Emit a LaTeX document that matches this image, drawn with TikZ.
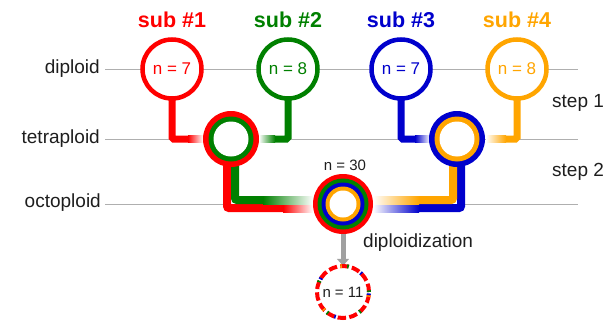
\documentclass[tikz,border=0pt]{standalone}
\usepackage{fontspec}
\setmainfont{Liberation Sans}
\usetikzlibrary{arrows.meta}
\definecolor{cred}{RGB}{255,0,0}
\definecolor{cgreen}{RGB}{0,128,0}
\definecolor{cblue}{RGB}{0,0,204}
\definecolor{corange}{RGB}{255,165,0}
\definecolor{cline}{RGB}{175,175,175}
\definecolor{ctext}{RGB}{30,30,30}
\definecolor{cgray}{RGB}{160,160,160}
\begin{document}
\begin{tikzpicture}[x=1pt,y=-1pt,
  level/.style={draw=cline,line width=1pt},
  lvlabel/.style={anchor=east,font=\fontsize{19}{19}\selectfont,text=ctext,inner sep=0pt},
  sublabel/.style={font=\fontsize{21.5}{21.5}\selectfont\bfseries,inner sep=0pt},
  dip/.style={circle,draw=#1,line width=4.5pt,fill=white,minimum size=59pt,inner sep=0pt,
    text=#1,font=\fontsize{17}{17}\selectfont},
  disc/.style={circle,fill=#1,inner sep=0pt},
  stem/.style={line width=7pt,draw=#1,rounded corners=1.5pt},
  band/.style={line width=8pt,draw=#1,rounded corners=2pt},
  note/.style={font=\fontsize{19}{19}\selectfont,text=ctext,inner sep=0pt}]
\useasboundingbox (0,0) rectangle (615,332);
% level lines
\draw[level] (105,69) -- (578,69);
\draw[level] (105,139) -- (578,139);
\draw[level] (105,204) -- (578,204);
\node[lvlabel] (ldip) at (100,69) {diploid};
\node[lvlabel] (ltet) at (100,139) {tetraploid};
\node[lvlabel] (loct) at (101,203) {octoploid};
\node[note,anchor=west] (st1) at (552,103) {step 1};
\node[note,anchor=west] (st2) at (552,172) {step 2};
% sub labels
\node[sublabel,text=cred] (h1) at (172,20) {sub \#1};
\node[sublabel,text=cgreen] (h2) at (288,20) {sub \#2};
\node[sublabel,text=cblue] (h3) at (401,20) {sub \#3};
\node[sublabel,text=corange] (h4) at (517,20) {sub \#4};
% coordinates of circles
\coordinate (c1) at (172,69);
\coordinate (c2) at (288,69);
\coordinate (c3) at (401,69);
\coordinate (c4) at (517,69);
\coordinate (t1) at (231,139);
\coordinate (t2) at (457,139);
\coordinate (o) at (343,204);
% step 1 stems
\draw[stem=cred] (c1) |- (190,139);
\shade[left color=cred,right color=white] (188,135.5) rectangle (203,142.5);
\draw[stem=cgreen] (c2) |- (273,139);
\shade[left color=white,right color=cgreen] (259,135.5) rectangle (275,142.5);
\draw[stem=cblue] (c3) |- (417,139);
\shade[left color=cblue,right color=white] (415,135.5) rectangle (430,142.5);
\draw[stem=corange] (c4) |- (504,139);
\shade[left color=white,right color=corange] (486,135.5) rectangle (506,142.5);
% step 2 bands
\draw[band=cred] (227,160) |- (285,208);
\shade[left color=cred,right color=white] (283,204) rectangle (313,212);
\draw[band=cgreen] (235,160) |- (265,200);
\shade[left color=cgreen,right color=white] (263,196) rectangle (313,204);
\draw[band=cblue] (461,160) |- (417,208);
\shade[left color=white,right color=cblue] (373,204) rectangle (419,212);
\draw[band=corange] (453,160) |- (417,200);
\shade[left color=white,right color=corange] (373,196) rectangle (419,204);
% diploid circles
\node[dip=cred] (s1) at (c1) {n = 7};
\node[dip=cgreen] (s2) at (c2) {n = 8};
\node[dip=cblue] (s3) at (c3) {n = 7};
\node[dip=corange] (s4) at (c4) {n = 8};
% tetraploid circles
\node[disc=cred,minimum size=56pt] (T1) at (t1) {};
\node[disc=cgreen,minimum size=45pt] (T1b) at (t1) {};
\node[disc=white,minimum size=35pt] (T1c) at (t1) {};
\node[disc=cblue,minimum size=56pt] (T2) at (t2) {};
\node[disc=corange,minimum size=45pt] (T2b) at (t2) {};
\node[disc=white,minimum size=35pt] (T2c) at (t2) {};
% octoploid circle
\node[disc=cred,minimum size=60pt] (O) at (o) {};
\node[disc=cgreen,minimum size=51pt] (Ob) at (o) {};
\node[disc=cblue,minimum size=43pt] (Oc) at (o) {};
\node[disc=corange,minimum size=35pt] (Od) at (o) {};
\node[disc=white,minimum size=27pt] (Oe) at (o) {};
\node[inner sep=0pt,text=ctext,font=\fontsize{15}{15}\selectfont] (n30) at (345,165) {n = 30};
% diploidization
\node[circle,minimum size=52pt,inner sep=0pt,text=ctext,font=\fontsize{15}{15}\selectfont] (F) at (343,292) {n = 11};
\draw[cgray,line width=5pt,-{Triangle[length=7pt,width=12pt]}] (O.south) -- (F.north);
\node[note,anchor=west] (dz) at (363,243) {diploidization};
\draw[cred,line width=4pt,dash pattern=on 8.4pt off 3.3pt] (F.center) circle (26pt);
\draw[cgreen,line width=4pt,dash pattern=on 1.6pt off 33.4pt,dash phase=0pt] (F.center) circle (26pt);
\draw[cblue,line width=4pt,dash pattern=on 1.6pt off 45.1pt,dash phase=-20pt] (F.center) circle (26pt);
\draw[corange,line width=4pt,dash pattern=on 1.2pt off 57pt,dash phase=-42pt] (F.center) circle (26pt);
\end{tikzpicture}
\end{document}
